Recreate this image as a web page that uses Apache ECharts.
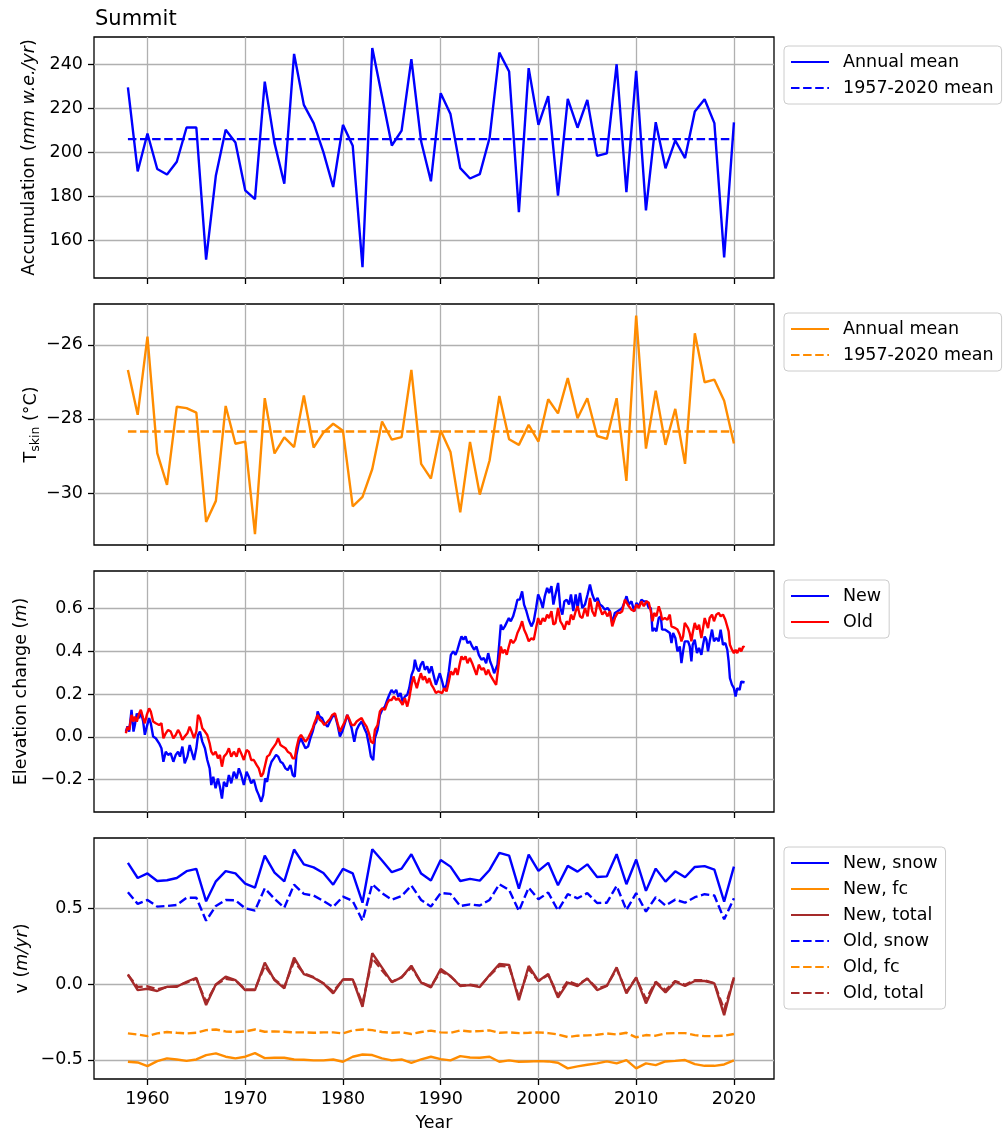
<!DOCTYPE html>
<html><head><meta charset="utf-8">
<script src="https://cdn.jsdelivr.net/npm/echarts@6/dist/echarts.min.js"></script>
<style>html,body{margin:0;padding:0;background:#fff}#c{width:1003px;height:1137px}</style>
</head><body><div id="c"></div>
<script>
// ---------- data ----------
const years = [1958,1959,1960,1961,1962,1963,1964,1965,1966,1967,1968,1969,1970,1971,1972,1973,1974,1975,1976,1977,
 1978,1979,1980,1981,1982,1983,1984,1985,1986,1987,1988,1989,1990,1991,1992,1993,1994,1995,1996,1997,
 1998,1999,2000,2001,2002,2003,2004,2005,2006,2007,2008,2009,2010,2011,2012,2013,2014,2015,2016,2017,
 2018,2019,2020];

const accAnnual = [229.5,191.2,208.5,192.3,189.8,195.6,211.2,211.2,151.1,189.4,210.2,204.4,182.6,178.6,232.1,204.1,185.6,244.7,221.5,213.2,
 200.0,184.1,212.4,202.9,147.6,247.4,225.3,203.0,209.8,242.3,204.8,186.7,226.8,217.3,192.7,188.0,190.0,206.4,245.3,236.7,
 172.7,238.2,212.4,225.5,180.2,224.2,211.1,223.8,198.3,199.4,240.0,181.8,237.0,173.5,213.6,192.6,205.3,197.3,218.5,224.1,
 213.2,152.1,213.5];
const accMean = 205.9;

const tskinAnnual = [-26.68,-27.89,-25.78,-28.92,-29.78,-27.67,-27.71,-27.83,-30.78,-30.21,-27.65,-28.67,-28.61,-31.11,-27.44,-28.93,-28.5,-28.76,-27.37,-28.77,
 -28.37,-28.13,-28.32,-30.36,-30.1,-29.35,-28.07,-28.56,-28.49,-26.68,-29.21,-29.61,-28.31,-28.89,-30.52,-28.62,-30.04,-29.12,-27.38,-28.55,
 -28.7,-28.16,-28.61,-27.47,-27.85,-26.9,-27.98,-27.44,-28.46,-28.54,-27.44,-29.67,-25.21,-28.8,-27.24,-28.7,-27.73,-29.21,-25.69,-27.01,
 -26.94,-27.51,-28.66];
const tskinMean = -28.34;

const elevT = [
 1957.79,1957.96,1958.13,1958.37,1958.57,1958.71,1958.91,1959.15,1959.32,1959.56,
 1959.73,1959.93,1960.17,1960.34,1960.58,1960.85,1961.19,1961.43,1961.63,1961.87,
 1962.11,1962.38,1962.65,1962.89,1963.13,1963.33,1963.57,1963.81,1964.08,1964.32,
 1964.52,1964.76,1965.00,1965.17,1965.37,1965.61,1965.88,1966.12,1966.36,1966.53,
 1966.73,1966.97,1967.21,1967.41,1967.62,1967.82,1968.10,1968.33,1968.57,1968.84,
 1969.12,1969.35,1969.59,1969.86,1970.14,1970.37,1970.61,1970.88,1971.16,1971.39,
 1971.63,1971.84,1972.04,1972.24,1972.48,1972.69,1972.93,1973.16,1973.37,1973.61,
 1973.84,1974.12,1974.35,1974.63,1974.86,1975.07,1975.24,1975.48,1975.71,1975.92,
 1976.16,1976.43,1976.67,1976.90,1977.07,1977.28,1977.41,1977.62,1977.86,1978.10,
 1978.43,1978.67,1978.91,1979.18,1979.45,1979.69,1979.93,1980.20,1980.44,1980.68,
 1980.89,1981.16,1981.40,1981.64,1981.91,1982.18,1982.42,1982.66,1982.86,1983.10,
 1983.27,1983.54,1983.78,1984.02,1984.29,1984.53,1984.74,1984.97,1985.21,1985.45,
 1985.66,1985.89,1986.10,1986.34,1986.58,1986.78,1987.02,1987.22,1987.36,1987.56,
 1987.77,1987.97,1988.18,1988.38,1988.62,1988.82,1989.06,1989.27,1989.51,1989.74,
 1989.91,1990.15,1990.36,1990.60,1990.83,1991.04,1991.28,1991.52,1991.72,1991.96,
 1992.13,1992.33,1992.54,1992.74,1992.98,1993.22,1993.42,1993.66,1993.90,1994.17,
 1994.41,1994.65,1994.86,1995.06,1995.26,1995.47,1995.67,1995.81,1996.01,1996.15,
 1996.35,1996.56,1996.76,1996.97,1997.17,1997.41,1997.65,1997.85,1998.09,1998.33,
 1998.53,1998.77,1999.01,1999.28,1999.52,1999.76,1999.97,2000.20,2000.44,2000.65,
 2000.89,2001.09,2001.33,2001.53,2001.74,2002.01,
 2002.24,2002.45,2002.65,2002.89,2003.13,2003.33,2003.57,2003.81,2004.01,2004.25,
 2004.49,2004.76,2005.03,2005.27,2005.51,2005.78,2006.05,2006.29,2006.53,2006.80,
 2007.07,2007.31,2007.55,2007.82,2008.10,2008.33,2008.57,2008.84,2009.01,2009.25,
 2009.52,2009.80,2010.03,2010.27,2010.54,2010.78,2011.05,2011.29,2011.50,2011.67,
 2011.84,2012.07,2012.31,2012.52,2012.65,2012.93,2013.20,2013.44,2013.61,2013.78,
 2014.01,2014.22,2014.46,2014.63,2014.80,2014.97,2015.14,2015.31,2015.48,2015.65,
 2015.78,2015.99,2016.22,2016.43,2016.67,2016.84,2017.01,2017.18,2017.35,2017.52,
 2017.76,2017.96,2018.20,2018.44,2018.64,2018.88,2019.12,2019.32,2019.46,2019.59,
 2019.80,2020.00,2020.17,2020.34,2020.58,2020.75,2020.95,2021.09];

const elevNew = [
 0.025,0.05,0.025,0.127,0.025,0.056,0.11,0.088,0.119,0.072,
 0.01,0.048,0.088,0.064,0.002,-0.006,-0.03,-0.053,-0.116,-0.069,
 -0.084,-0.077,-0.116,-0.084,-0.069,-0.092,-0.045,-0.123,-0.092,-0.038,
 -0.069,-0.108,-0.053,0.009,0.025,-0.022,-0.053,-0.108,-0.147,-0.225,
 -0.186,-0.24,-0.194,-0.233,-0.288,-0.21,-0.233,-0.178,-0.217,-0.163,
 -0.194,-0.147,-0.178,-0.225,-0.163,-0.186,-0.217,-0.2,-0.248,-0.272,
 -0.303,-0.272,-0.194,-0.21,-0.147,-0.116,-0.1,-0.084,-0.092,-0.116,
 -0.123,-0.147,-0.155,-0.131,-0.178,-0.186,-0.084,-0.03,-0.006,-0.03,
 -0.053,-0.045,-0.006,0.025,0.056,0.072,0.119,0.095,0.088,0.064,
 0.048,0.072,0.095,0.103,0.056,0.002,0.025,0.064,0.103,0.072,
 0.041,-0.022,0.033,0.056,0.072,0.041,0.017,-0.038,-0.092,-0.108,
 -0.006,0.033,0.103,0.127,0.142,0.173,0.197,0.22,0.205,0.22,
 0.189,0.205,0.166,0.189,0.197,0.228,0.29,0.314,0.361,0.322,
 0.306,0.338,0.353,0.314,0.33,0.298,0.33,0.29,0.244,0.275,
 0.298,0.259,0.22,0.244,0.306,0.384,0.4,0.384,0.408,0.447,
 0.47,0.455,0.47,0.439,0.447,0.423,0.408,0.423,0.384,0.361,
 0.369,0.345,0.392,0.353,0.33,0.298,0.29,0.338,0.447,0.525,
 0.502,0.517,0.509,0.556,0.541,0.564,0.603,0.642,0.642,0.681,
 0.619,0.588,0.548,0.517,0.541,0.603,0.666,0.642,0.603,0.658,
 0.697,0.673,0.705,0.619,0.666,0.72,
 0.603,0.572,0.634,0.642,0.619,0.666,0.588,0.666,0.603,0.673,
 0.603,0.619,0.666,0.713,0.666,0.634,0.65,0.619,0.611,0.595,
 0.603,0.588,0.533,0.58,0.588,0.595,0.603,0.634,0.658,0.619,
 0.634,0.588,0.627,0.611,0.642,0.634,0.634,0.603,0.603,0.494,
 0.509,0.494,0.556,0.564,0.502,0.502,0.494,0.486,0.439,0.486,
 0.463,0.4,0.423,0.345,0.4,0.447,0.455,0.447,0.423,0.353,
 0.431,0.455,0.392,0.416,0.384,0.431,0.47,0.455,0.4,0.447,
 0.502,0.447,0.463,0.447,0.502,0.431,0.439,0.408,0.353,0.275,
 0.244,0.228,0.189,0.228,0.22,0.259,0.267,0.256];

const elevOld = [
 0.017,0.048,0.033,0.103,0.072,0.095,0.072,0.11,0.127,0.088,
 0.064,0.103,0.134,0.119,0.072,0.064,0.056,0.064,-0.006,0.017,
 0.033,0.025,-0.006,0.009,0.033,0.017,-0.014,0.002,0.017,0.048,
 0.025,-0.006,0.025,0.103,0.088,0.041,0.025,0.009,-0.03,-0.069,
 -0.084,-0.069,-0.1,-0.084,-0.139,-0.092,-0.077,-0.053,-0.092,-0.069,
 -0.092,-0.053,-0.077,-0.108,-0.061,-0.069,-0.108,-0.108,-0.131,-0.147,
 -0.186,-0.17,-0.131,-0.092,-0.084,-0.061,-0.045,-0.03,-0.006,-0.038,
 -0.045,-0.053,-0.069,-0.077,-0.1,-0.1,-0.053,-0.006,0.009,-0.006,
 -0.022,-0.006,0.017,0.041,0.064,0.088,0.103,0.08,0.072,0.056,
 0.072,0.084,0.103,0.111,0.064,0.025,0.048,0.072,0.103,0.08,
 0.056,0.056,0.072,0.08,0.088,0.064,0.048,0.017,-0.022,-0.03,
 0.033,0.056,0.119,0.134,0.127,0.158,0.173,0.173,0.189,0.173,
 0.181,0.166,0.15,0.181,0.142,0.181,0.244,0.283,0.259,0.228,
 0.267,0.298,0.267,0.283,0.252,0.275,0.244,0.228,0.205,0.213,
 0.22,0.205,0.228,0.213,0.259,0.306,0.29,0.322,0.29,0.345,
 0.377,0.361,0.377,0.345,0.369,0.345,0.353,0.29,0.338,0.314,
 0.322,0.29,0.314,0.29,0.29,0.259,0.244,0.252,0.369,0.423,
 0.392,0.408,0.384,0.423,0.455,0.439,0.455,0.486,0.509,0.541,
 0.502,0.478,0.447,0.462,0.455,0.509,0.556,0.525,0.556,0.541,
 0.572,0.556,0.588,0.525,0.533,0.603,
 0.541,0.525,0.502,0.541,0.525,0.572,0.548,0.588,0.611,0.564,
 0.556,0.603,0.564,0.65,0.588,0.564,0.634,0.603,0.572,0.588,
 0.564,0.588,0.517,0.556,0.58,0.58,0.588,0.642,0.634,0.611,
 0.595,0.588,0.619,0.603,0.634,0.611,0.634,0.627,0.588,0.541,
 0.58,0.564,0.611,0.58,0.548,0.556,0.548,0.572,0.517,0.525,
 0.509,0.502,0.478,0.447,0.47,0.533,0.541,0.509,0.486,0.447,
 0.486,0.533,0.502,0.525,0.463,0.509,0.556,0.564,0.509,0.556,
 0.572,0.541,0.572,0.58,0.564,0.572,0.548,0.556,0.494,0.431,
 0.408,0.392,0.408,0.392,0.416,0.4,0.423,0.419];

const newSnow = [0.80,0.70,0.73,0.68,0.685,0.70,0.745,0.76,0.546,0.678,0.745,0.73,0.663,0.637,0.848,0.736,0.678,0.888,0.79,0.77,
 0.733,0.656,0.76,0.73,0.537,0.89,0.815,0.738,0.762,0.857,0.729,0.683,0.819,0.775,0.68,0.694,0.683,0.753,0.866,0.848,
 0.63,0.855,0.747,0.8,0.652,0.78,0.742,0.79,0.707,0.711,0.857,0.659,0.822,0.615,0.762,0.676,0.744,0.705,0.773,0.778,
 0.755,0.544,0.775];
const newFc = [-0.513,-0.518,-0.542,-0.509,-0.491,-0.498,-0.507,-0.498,-0.469,-0.458,-0.48,-0.491,-0.48,-0.456,-0.489,-0.487,-0.487,-0.498,-0.5,-0.504,
 -0.504,-0.498,-0.513,-0.48,-0.465,-0.469,-0.491,-0.504,-0.498,-0.52,-0.498,-0.48,-0.496,-0.504,-0.476,-0.485,-0.487,-0.48,-0.513,-0.504,
 -0.513,-0.511,-0.509,-0.511,-0.52,-0.557,-0.544,-0.533,-0.524,-0.511,-0.524,-0.502,-0.557,-0.524,-0.535,-0.511,-0.507,-0.502,-0.529,-0.54,
 -0.54,-0.531,-0.504];
const newTotal = [0.064,-0.04,-0.031,-0.046,-0.018,-0.018,0.015,0.04,-0.139,-0.002,0.048,0.026,-0.04,-0.04,0.141,0.026,-0.029,0.174,0.066,0.042,
 0.004,-0.062,0.031,0.031,-0.15,0.203,0.108,0.013,0.044,0.121,0.009,-0.022,0.099,0.053,-0.013,-0.007,-0.02,0.059,0.132,0.126,
 -0.106,0.119,0.02,0.066,-0.09,0.009,-0.013,0.037,-0.04,-0.013,0.11,-0.062,0.044,-0.128,0.011,-0.055,0.015,-0.013,0.02,0.02,
 0.004,-0.205,0.044];
const oldSnow = [0.606,0.529,0.555,0.511,0.515,0.522,0.57,0.57,0.418,0.515,0.555,0.553,0.5,0.485,0.632,0.562,0.504,0.656,0.595,0.584,
 0.548,0.509,0.577,0.548,0.418,0.659,0.6,0.557,0.581,0.65,0.555,0.511,0.601,0.595,0.515,0.526,0.518,0.555,0.659,0.621,
 0.482,0.636,0.559,0.604,0.485,0.593,0.566,0.6,0.535,0.537,0.648,0.489,0.6,0.478,0.573,0.518,0.557,0.537,0.573,0.593,
 0.584,0.427,0.566];
const oldFc = [-0.326,-0.333,-0.344,-0.326,-0.317,-0.322,-0.326,-0.322,-0.304,-0.3,-0.313,-0.317,-0.313,-0.3,-0.315,-0.313,-0.315,-0.319,-0.319,-0.322,
 -0.319,-0.319,-0.326,-0.306,-0.3,-0.304,-0.317,-0.322,-0.319,-0.33,-0.317,-0.308,-0.319,-0.322,-0.306,-0.313,-0.311,-0.306,-0.322,-0.319,
 -0.324,-0.322,-0.319,-0.324,-0.333,-0.35,-0.341,-0.339,-0.335,-0.326,-0.333,-0.322,-0.352,-0.337,-0.341,-0.326,-0.324,-0.324,-0.337,-0.344,
 -0.344,-0.341,-0.33];
const oldTotal = [0.06,-0.02,-0.015,-0.035,-0.02,-0.015,0.01,0.035,-0.12,-0.005,0.035,0.025,-0.035,-0.035,0.12,0.03,-0.02,0.15,0.07,0.045,
 0.005,-0.05,0.03,0.03,-0.13,0.17,0.09,0.015,0.045,0.11,0.01,-0.015,0.085,0.05,-0.01,-0.005,-0.015,0.055,0.12,0.115,
 -0.09,0.1,0.02,0.06,-0.075,0.02,-0.005,0.035,-0.03,-0.01,0.1,-0.05,0.04,-0.1,0.015,-0.04,0.02,-0.005,0.025,0.025,
 0.005,-0.17,0.04];

// ---------- ticks & labels ----------
const xTicks = [1960,1970,1980,1990,2000,2010,2020];
const accTicks = [160,180,200,220,240];
const tskinTicks = [-30,-28,-26];
const elevTicks = [-0.2,0,0.2,0.4,0.6];
const vTicks = [-0.5,0,0.5];
const legendLabels = {
  accA:'Annual mean', accM:'1957-2020 mean', tA:'Annual mean', tM:'1957-2020 mean',
  eN:'New', eO:'Old',
  vNS:'New, snow', vNF:'New, fc', vNT:'New, total', vOS:'Old, snow', vOF:'Old, fc', vOT:'Old, total'
};
const yNames = [
  '{n|Accumulation (}{i|mm w.e./yr}{n|)}',
  '{n|T}{s|skin}{n| (°C)}',
  '{n|Elevation change (}{i|m}{n|)}',
  '{n|v (}{i|m/yr}{n|)}'
];

// ---------- style ----------
const FONT = 'DejaVu Sans';
const FS = 17.5;
const LW = 2.4;
const DASH = [8.5, 3.6];
const BLUE = '#0000ff', ORANGE = '#ff8c00', RED = '#ff0000', BROWN = '#a52a2a';
const X_MIN = 1954.53, X_MAX = 2024.1;
const yRanges = [[142.7, 252.4], [-31.40, -24.90], [-0.351, 0.776], [-0.627, 0.964]];
const yIntervals = [20, 2, 0.2, 0.5];
const yTickSets = [accTicks, tskinTicks, elevTicks, vTicks];
const yDecimals = [0, 0, 1, 1];
const yNameGaps = [54, 52, 62, 61];
const GRID_TOPS = [37, 304, 571, 838];
const GRID_H = 241;

function fmt(dec) { return v => (v < 0 ? '\u2212' : '') + Math.abs(v).toFixed(dec); }
const txt = {fontFamily: FONT, fontSize: FS, color: '#000'};

const grids = GRID_TOPS.map(t => ({
  left: 94, top: t, width: 680, height: GRID_H,
  show: true, borderColor: '#000', borderWidth: 1.3, backgroundColor: 'transparent',
  containLabel: false, outerBoundsMode: 'none'
}));

const xAxes = GRID_TOPS.map((t, i) => ({
  type: 'value', gridIndex: i, min: X_MIN, max: X_MAX, minInterval: 10, maxInterval: 10,
  axisLine: {show: false, onZero: false},
  axisTick: {show: true, inside: false, length: 6, customValues: xTicks, lineStyle: {color: '#000', width: 1.3}},
  axisLabel: Object.assign({show: i === 3, customValues: xTicks, margin: 11, formatter: v => String(v)}, txt),
  splitLine: {show: true, lineStyle: {color: '#b0b0b0', width: 1.3}},
  name: i === 3 ? 'Year' : '', nameLocation: 'middle', nameGap: 35, nameMoveOverlap: false,
  nameTextStyle: txt
}));

const yAxes = GRID_TOPS.map((t, i) => ({
  type: 'value', gridIndex: i, min: yRanges[i][0], max: yRanges[i][1],
  minInterval: yIntervals[i], maxInterval: yIntervals[i],
  axisLine: {show: false, onZero: false},
  axisTick: {show: true, inside: false, length: 6, customValues: yTickSets[i], lineStyle: {color: '#000', width: 1.3}},
  axisLabel: Object.assign({customValues: yTickSets[i], margin: 11, formatter: fmt(yDecimals[i])}, txt),
  splitLine: {show: true, lineStyle: {color: '#b0b0b0', width: 1.3}},
  name: yNames[i], nameLocation: 'middle', nameRotate: 90, nameGap: yNameGaps[i], nameMoveOverlap: false,
  nameTextStyle: {
    rich: {
      n: {fontFamily: FONT, fontSize: FS, color: '#000', lineHeight: 20, verticalAlign: 'top'},
      i: {fontFamily: FONT, fontSize: FS, color: '#000', fontStyle: 'italic', lineHeight: 20, verticalAlign: 'top'},
      s: {fontFamily: FONT, fontSize: 12.5, color: '#000', lineHeight: 20, verticalAlign: 'top', padding: [7, 0, 0, 0]}
    }
  }
}));

function pairs(xs, ys) { return xs.map((x, k) => [x, ys[k]]); }
function line(name, idx, data, color, dashed) {
  return {
    type: 'line', name, xAxisIndex: idx, yAxisIndex: idx, data,
    showSymbol: false, symbol: 'none', animation: false, silent: true, clip: true,
    lineStyle: {color, width: LW, type: dashed ? DASH : 'solid', cap: 'butt'},
    itemStyle: {color}
  };
}
const first = years[0], last = years[years.length - 1];
const series = [
  line('accA', 0, pairs(years, accAnnual), BLUE, false),
  line('accM', 0, [[first, accMean], [last, accMean]], BLUE, true),
  line('tA', 1, pairs(years, tskinAnnual), ORANGE, false),
  line('tM', 1, [[first, tskinMean], [last, tskinMean]], ORANGE, true),
  line('eN', 2, pairs(elevT, elevNew), BLUE, false),
  line('eO', 2, pairs(elevT, elevOld), RED, false),
  line('vNS', 3, pairs(years, newSnow), BLUE, false),
  line('vNF', 3, pairs(years, newFc), ORANGE, false),
  line('vNT', 3, pairs(years, newTotal), BROWN, false),
  line('vOS', 3, pairs(years, oldSnow), BLUE, true),
  line('vOF', 3, pairs(years, oldFc), ORANGE, true),
  line('vOT', 3, pairs(years, oldTotal), BROWN, true)
];

function legend(names, top) {
  return {
    data: names, orient: 'vertical', left: 784, top,
    padding: [7, 8, 7, 6], itemGap: 8, itemWidth: 38, itemHeight: 14,
    borderColor: '#cccccc', borderWidth: 1, borderRadius: 4, backgroundColor: 'rgba(255,255,255,0.8)',
    itemStyle: {opacity: 0, borderWidth: 0},
    textStyle: Object.assign({padding: [0, 0, 0, 9]}, txt),
    formatter: n => legendLabels[n], selectedMode: false
  };
}

const chart = echarts.init(document.getElementById('c'), null, {renderer: 'canvas'});
chart.setOption({
  animation: false,
  backgroundColor: '#fff',
  title: {text: 'Summit', left: 95, top: 9, padding: 0,
    textStyle: {fontFamily: FONT, fontSize: 21, fontWeight: 'normal', color: '#000'}},
  grid: grids, xAxis: xAxes, yAxis: yAxes,
  legend: [
    legend(['accA', 'accM'], 46),
    legend(['tA', 'tM'], 313),
    legend(['eN', 'eO'], 580),
    legend(['vNS', 'vNF', 'vNT', 'vOS', 'vOF', 'vOT'], 847)
  ],
  series
});
</script>
</body></html>
